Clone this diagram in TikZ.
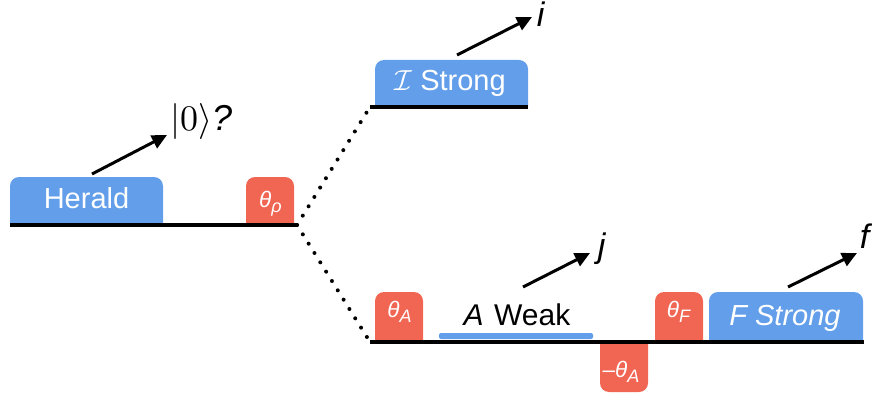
\documentclass[tikz,border=0pt]{standalone}
\usepackage[no-math]{fontspec}
\setmainfont{Liberation Sans}
\usetikzlibrary{arrows.meta}
\definecolor{qblue}{RGB}{98,158,233}
\definecolor{qred}{RGB}{241,101,83}
\newcommand\qsubsc[1]{\raisebox{-5pt}{\fontsize{18}{18}\selectfont\textit{#1}}}
\tikzset{
  wire/.style={line width=4pt},
  dotwire/.style={line width=4pt, line cap=round, dash pattern=on 0pt off 11pt},
  meas/.style={line width=3pt, -{Triangle[length=15pt,width=14pt]}},
  lbl/.style={font=\fontsize{29}{32}\selectfont, inner sep=0pt, anchor=base},
  olbl/.style={font=\fontsize{34}{38}\selectfont, inner sep=0pt, anchor=base},
  glbl/.style={font=\fontsize{22.5}{24}\selectfont, inner sep=0pt, text=white, anchor=base},
}
\begin{document}
\begin{tikzpicture}[x=1pt,y=-1pt]
\useasboundingbox (0,0) rectangle (872,393);
% wire ends
\coordinate (hl) at (10,225); \coordinate (hr) at (297,225);
\coordinate (ul) at (370,107); \coordinate (ur) at (528,107);
\coordinate (ll) at (370,342); \coordinate (lr) at (864,342);
% boxes
\fill[qblue] (10,225) [rounded corners=9pt] -- (10,177) -- (163,177) [sharp corners] -- (163,225) -- cycle;
\fill[qred] (246,225) [rounded corners=9pt] -- (246,177) -- (294,177) [sharp corners] -- (294,225) -- cycle;
\fill[qblue] (375,107) [rounded corners=9pt] -- (375,60) -- (528,60) [sharp corners] -- (528,107) -- cycle;
\fill[qred] (375,342) [rounded corners=9pt] -- (375,292) -- (423,292) [sharp corners] -- (423,342) -- cycle;
\fill[qred] (655,342) [rounded corners=9pt] -- (655,292) -- (703,292) [sharp corners] -- (703,342) -- cycle;
\fill[qblue] (709,342) [rounded corners=9pt] -- (709,292) -- (863,292) [sharp corners] -- (863,342) -- cycle;
\fill[qred] (600,342) [rounded corners=9pt] -- (600,392) -- (648,392) [sharp corners] -- (648,342) -- cycle;
\fill[qblue, rounded corners=2pt] (439,333) rectangle (593,339);
% wires
\draw[wire] (hl) -- (hr);
\draw[wire] (ul) -- (ur);
\draw[wire] (ll) -- (lr);
\draw[dotwire] (hr) -- (ul);
\draw[dotwire] (hr) -- (ll);
% texts
\node[lbl, text=white] (herald) at (86.5,208) {Herald};
\node[glbl] (trho) at (270.5,207) {\textit{θ}\qsubsc{ρ}};
\node[lbl, text=white] (istrong) at (450,91) {\scalebox{2.9}{\fontsize{10}{12}\selectfont$\mathcal{I}$} Strong};
\node[glbl] (tA) at (399.5,317) {\textit{θ}\qsubsc{A}};
\node[lbl, font=\fontsize{30}{33}\selectfont] (aweak) at (517,325) {\textit{A}\hspace{0.35em}Weak};
\node[glbl] (mtA) at (621,377) {–\textit{θ}\qsubsc{A}};
\node[glbl] (tF) at (679,317) {\textit{θ}\qsubsc{F}};
\node[lbl, text=white] (fstrong) at (785,325) {\textit{F Strong}};
\node[olbl, anchor=base west] (zero) at (170,131) {\scalebox{3.6}{\fontsize{10}{12}\selectfont$|0\rangle$}\fontsize{36}{40}\selectfont\textit{?}};
\node[olbl] (ilbl) at (541,27) {\textit{i}};
\node[olbl] (jlbl) at (602,257) {\textit{j}};
\node[olbl] (flbl) at (866,248) {\textit{f}};
% measurement arrows
\coordinate (a1) at (92,174); \coordinate (a1e) at (167,135);
\coordinate (a2) at (457,55); \coordinate (a2e) at (532,17);
\coordinate (a3) at (523,287); \coordinate (a3e) at (590,253);
\coordinate (a4) at (788,287); \coordinate (a4e) at (857,253);
\draw[meas] (a1) -- (a1e);
\draw[meas] (a2) -- (a2e);
\draw[meas] (a3) -- (a3e);
\draw[meas] (a4) -- (a4e);
\end{tikzpicture}
\end{document}
